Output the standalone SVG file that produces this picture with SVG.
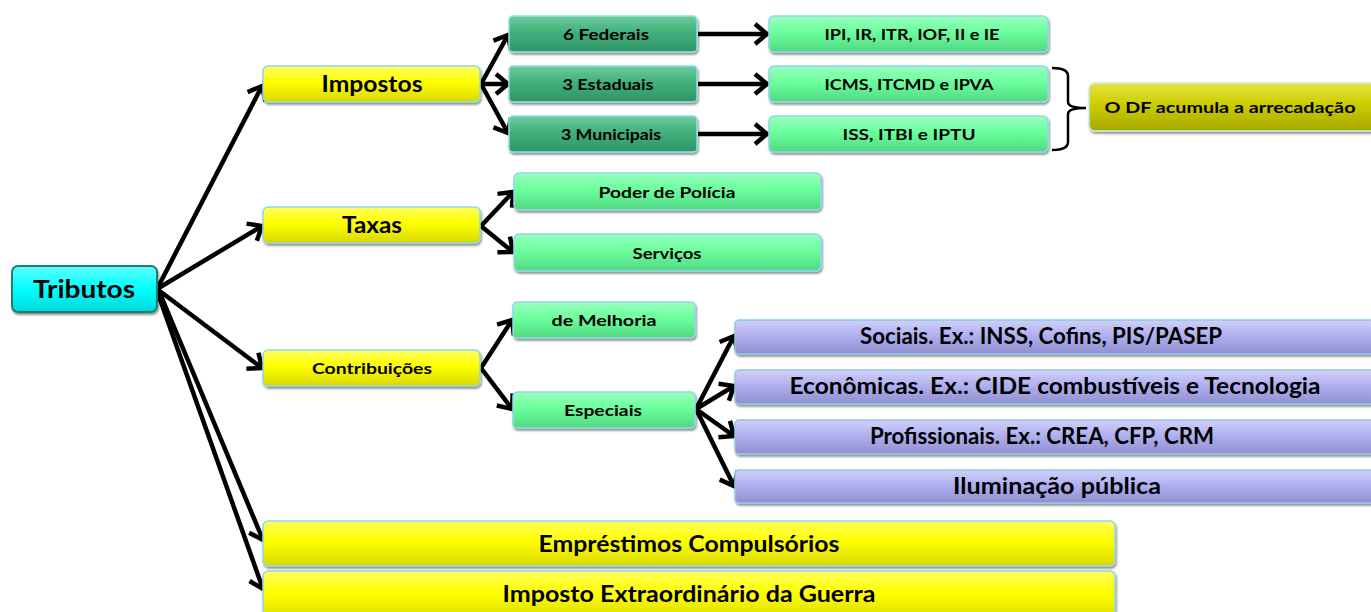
<svg xmlns="http://www.w3.org/2000/svg" width="1371" height="612" viewBox="0 0 1371 612">
<style>
  text { font-family: Lato, "Open Sans", "Liberation Sans", sans-serif; font-weight: bold; fill: #000; text-anchor: middle; }
  .box { stroke-width: 1.5; filter: url(#sh); }
  .cy { fill: url(#gCyan); stroke: #1f7f6f; stroke-width: 2; }
  .ye { fill: url(#gYel); stroke: #8fd8e8; }
  .dg { fill: url(#gDg); stroke: #8fe0e8; }
  .lg { fill: url(#gLg); stroke: #8fd8e8; }
  .pu { fill: url(#gPu); stroke: #8fc8e8; }
  .ol { fill: url(#gOl); stroke: #c8f0e0; }
  .con line { stroke: #000; stroke-width: 4.5; fill: none; }
  .con path { stroke: #000; stroke-width: 2.5; fill: none; }
</style>
<defs>
  <filter id="sh" x="-5%" y="-20%" width="110%" height="150%">
    <feDropShadow dx="1" dy="2" stdDeviation="1.2" flood-color="#000" flood-opacity="0.45"/>
  </filter>
  <linearGradient id="gCyan" x1="0" y1="0" x2="0" y2="1"><stop offset="0" stop-color="#5ffff8"/><stop offset="0.5" stop-color="#00ffff"/><stop offset="1" stop-color="#00d8d8"/></linearGradient>
  <linearGradient id="gYel" x1="0" y1="0" x2="0" y2="1"><stop offset="0" stop-color="#ffff60"/><stop offset="0.45" stop-color="#ffff00"/><stop offset="1" stop-color="#d8d800"/></linearGradient>
  <linearGradient id="gDg" x1="0" y1="0" x2="0" y2="1"><stop offset="0" stop-color="#6ccc9c"/><stop offset="0.45" stop-color="#42b07c"/><stop offset="1" stop-color="#2f9466"/></linearGradient>
  <linearGradient id="gLg" x1="0" y1="0" x2="0" y2="1"><stop offset="0" stop-color="#9affbe"/><stop offset="0.45" stop-color="#6aff9c"/><stop offset="1" stop-color="#52d884"/></linearGradient>
  <linearGradient id="gPu" x1="0" y1="0" x2="0" y2="1"><stop offset="0" stop-color="#d0d0fa"/><stop offset="0.45" stop-color="#b0b0f0"/><stop offset="1" stop-color="#9090d0"/></linearGradient>
  <linearGradient id="gOl" x1="0" y1="0" x2="0" y2="1"><stop offset="0" stop-color="#e6e640"/><stop offset="0.45" stop-color="#cccc00"/><stop offset="1" stop-color="#a8a800"/></linearGradient>
  <marker id="ar" markerUnits="userSpaceOnUse" markerWidth="28" markerHeight="28" refX="16" refY="14" orient="auto" viewBox="0 0 28 28">
    <path d="M4,4 L16,14 L4,24" fill="none" stroke="#000" stroke-width="4.5" stroke-linejoin="miter"/>
  </marker>
</defs>

<g id="connectors" class="con">
  <line x1="157" y1="289" x2="262" y2="86" marker-end="url(#ar)"/>
  <line x1="157" y1="289" x2="262" y2="226" marker-end="url(#ar)"/>
  <line x1="157" y1="289" x2="262" y2="368" marker-end="url(#ar)"/>
  <line x1="159" y1="291" x2="263" y2="540" marker-end="url(#ar)"/>
  <line x1="157" y1="291" x2="263" y2="589" marker-end="url(#ar)"/>

  <line x1="481" y1="84" x2="508" y2="35" marker-end="url(#ar)"/>
  <line x1="481" y1="84" x2="508" y2="84" marker-end="url(#ar)"/>
  <line x1="481" y1="84" x2="508" y2="133" marker-end="url(#ar)"/>

  <line x1="698" y1="34" x2="767" y2="34" marker-end="url(#ar)"/>
  <line x1="698" y1="84" x2="767" y2="84" marker-end="url(#ar)"/>
  <line x1="698" y1="134" x2="767" y2="134" marker-end="url(#ar)"/>

  <line x1="481" y1="226" x2="513" y2="192" marker-end="url(#ar)"/>
  <line x1="481" y1="226" x2="513" y2="252" marker-end="url(#ar)"/>

  <line x1="481" y1="368" x2="512" y2="320" marker-end="url(#ar)"/>
  <line x1="481" y1="368" x2="512" y2="409" marker-end="url(#ar)"/>

  <line x1="696" y1="409" x2="734" y2="336" marker-end="url(#ar)"/>
  <line x1="696" y1="409" x2="734" y2="386" marker-end="url(#ar)"/>
  <line x1="696" y1="409" x2="734" y2="436" marker-end="url(#ar)"/>
  <line x1="696" y1="409" x2="734" y2="486" marker-end="url(#ar)"/>

  <path d="M1052,68 Q1068,68 1068,76 L1068,102 Q1068,108 1086,108 Q1068,108 1068,114 L1068,142 Q1068,150 1052,150"/>
</g>

<g id="tributos"><rect class="box cy" x="12" y="266" width="145" height="46" rx="6"/><text x="84" y="298" font-size="25" textLength="102" lengthAdjust="spacingAndGlyphs">Tributos</text></g>

<g id="impostos"><rect class="box ye" x="263" y="66" width="217" height="36" rx="5"/><text x="372" y="92" font-size="22" textLength="101" lengthAdjust="spacingAndGlyphs">Impostos</text></g>
<g id="taxas"><rect class="box ye" x="263" y="207" width="217" height="36" rx="5"/><text x="372" y="233" font-size="22" textLength="60" lengthAdjust="spacingAndGlyphs">Taxas</text></g>
<g id="contribuicoes"><rect class="box ye" x="263" y="350" width="217" height="36" rx="5"/><text x="372" y="374" font-size="16" textLength="120" lengthAdjust="spacingAndGlyphs">Contribuições</text></g>

<g id="federais"><rect class="box dg" x="509" y="16" width="188" height="36" rx="4"/><text x="606" y="40" font-size="16" textLength="86" lengthAdjust="spacingAndGlyphs">6 Federais</text></g>
<g id="estaduais"><rect class="box dg" x="509" y="66" width="188" height="36" rx="4"/><text x="608" y="90" font-size="16" textLength="91" lengthAdjust="spacingAndGlyphs">3 Estaduais</text></g>
<g id="municipais"><rect class="box dg" x="509" y="116" width="188" height="36" rx="4"/><text x="611" y="140" font-size="16" textLength="100" lengthAdjust="spacingAndGlyphs">3 Municipais</text></g>

<g id="ipi"><rect class="box lg" x="769" y="16" width="279" height="36" rx="5"/><text x="912" y="40" font-size="16" textLength="175" lengthAdjust="spacingAndGlyphs">IPI, IR, ITR, IOF, II e IE</text></g>
<g id="icms"><rect class="box lg" x="769" y="66" width="279" height="36" rx="5"/><text x="909" y="90" font-size="16" textLength="169" lengthAdjust="spacingAndGlyphs">ICMS, ITCMD e IPVA</text></g>
<g id="iss"><rect class="box lg" x="769" y="116" width="279" height="36" rx="5"/><text x="909" y="140" font-size="16" textLength="133" lengthAdjust="spacingAndGlyphs">ISS, ITBI e IPTU</text></g>

<g id="odf"><rect class="box ol" x="1089" y="83" width="295" height="48" rx="6"/><text x="1230" y="113" font-size="16" textLength="251" lengthAdjust="spacingAndGlyphs">O DF acumula a arrecadação</text></g>

<g id="policia"><rect class="box lg" x="514" y="173" width="307" height="37" rx="5"/><text x="667" y="198" font-size="16" textLength="137" lengthAdjust="spacingAndGlyphs">Poder de Polícia</text></g>
<g id="servicos"><rect class="box lg" x="514" y="234" width="307" height="37" rx="5"/><text x="667" y="259" font-size="16" textLength="69" lengthAdjust="spacingAndGlyphs">Serviços</text></g>

<g id="melhoria"><rect class="box lg" x="513" y="302" width="182" height="36" rx="4"/><text x="604" y="326" font-size="16" textLength="105" lengthAdjust="spacingAndGlyphs">de Melhoria</text></g>
<g id="especiais"><rect class="box lg" x="513" y="392" width="182" height="36" rx="4"/><text x="603" y="416" font-size="16" textLength="78" lengthAdjust="spacingAndGlyphs">Especiais</text></g>

<g id="sociais"><rect class="box pu" x="735" y="320" width="650" height="34" rx="4"/><text x="1041" y="344" font-size="22" textLength="362" lengthAdjust="spacingAndGlyphs">Sociais. Ex.: INSS, Cofins, PIS/PASEP</text></g>
<g id="economicas"><rect class="box pu" x="735" y="370" width="650" height="34" rx="4"/><text x="1055" y="394" font-size="22" textLength="531" lengthAdjust="spacingAndGlyphs">Econômicas. Ex.: CIDE combustíveis e Tecnologia</text></g>
<g id="profissionais"><rect class="box pu" x="735" y="420" width="650" height="34" rx="4"/><text x="1042" y="444" font-size="22" textLength="344" lengthAdjust="spacingAndGlyphs">Profissionais. Ex.: CREA, CFP, CRM</text></g>
<g id="iluminacao"><rect class="box pu" x="735" y="470" width="650" height="33" rx="4"/><text x="1057" y="494" font-size="22" textLength="208" lengthAdjust="spacingAndGlyphs">Iluminação pública</text></g>

<g id="emprestimos"><rect class="box ye" x="263" y="521" width="852" height="45" rx="5"/><text x="689" y="552" font-size="22" textLength="301" lengthAdjust="spacingAndGlyphs">Empréstimos Compulsórios</text></g>
<g id="guerra"><rect class="box ye" x="263" y="571" width="852" height="50" rx="5"/><text x="689" y="602" font-size="22" textLength="373" lengthAdjust="spacingAndGlyphs">Imposto Extraordinário da Guerra</text></g>
</svg>
